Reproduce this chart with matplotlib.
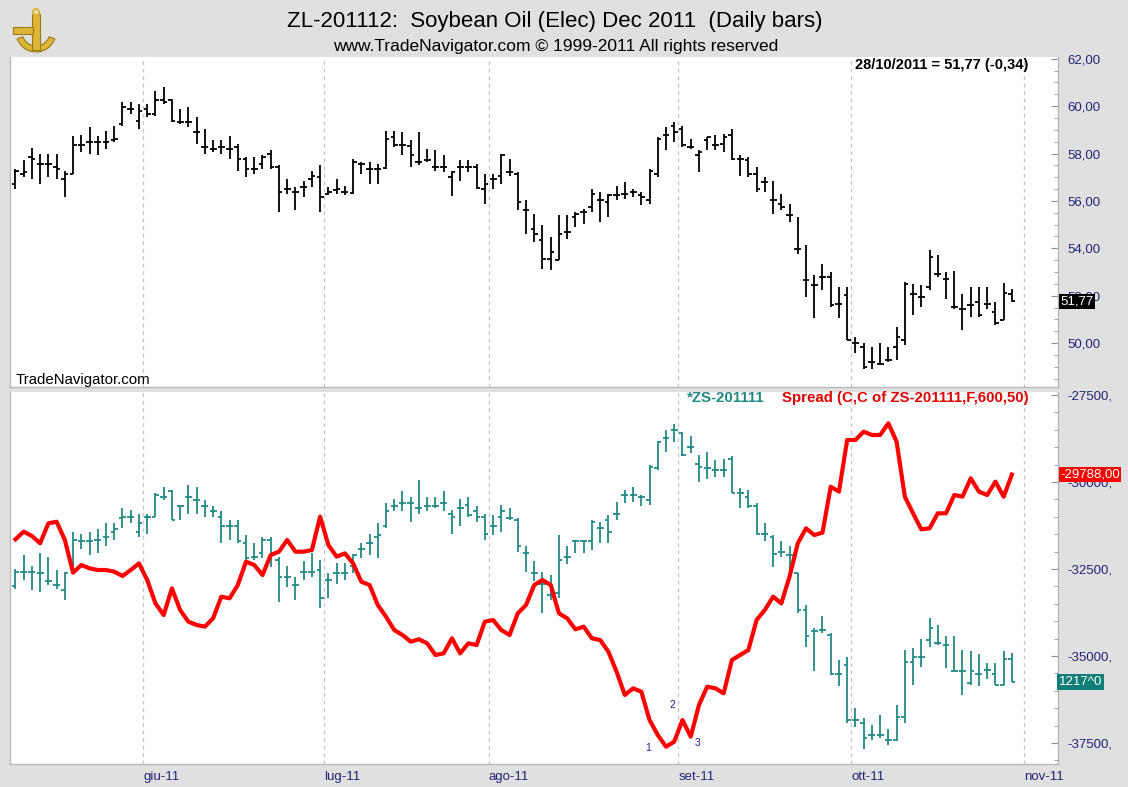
import numpy as np
import matplotlib
matplotlib.use("Agg")
import matplotlib.pyplot as plt
import matplotlib.transforms as mtransforms
from matplotlib import ticker
from matplotlib.patches import Rectangle, Wedge, Circle

plt.rcParams['font.family'] = ['Liberation Sans', 'DejaVu Sans']

# ZL-201112 soybean oil, daily bars 09/05/2011 .. 28/10/2011
zl_high = [57.35, 57.71, 58.24, 57.99, 57.99, 57.99, 57.28, 58.72, 58.76, 59.11,
           58.72, 58.97, 59.18, 60.16, 60.16, 60.09, 60.09, 60.65, 60.79, 60.30,
           59.88, 59.95, 59.53, 59.04, 58.55, 58.55, 58.72, 58.41, 57.85, 57.85,
           57.92, 58.13, 57.50, 56.93, 56.58, 56.86, 57.28, 57.50, 56.58, 56.93,
           56.65, 57.78, 57.64, 57.64, 57.57, 58.97, 58.97, 58.90, 58.55, 58.90,
           58.20, 58.15, 57.92, 57.28, 57.71, 57.71, 57.57, 57.14, 57.14, 57.99,
           57.78, 57.21, 56.02, 55.46, 54.97, 54.48, 55.39, 55.39, 55.53, 55.67,
           56.51, 56.37, 56.30, 56.65, 56.79, 56.51, 56.37, 57.35, 58.69, 59.11,
           59.32, 59.18, 58.62, 58.13, 58.69, 58.76, 58.83, 59.04, 57.92, 57.85,
           57.43, 57.00, 56.86, 56.30, 55.88, 55.32, 54.13, 52.86, 53.35, 53.00,
           52.37, 52.37, 50.27, 49.99, 49.85, 49.99, 49.85, 50.69, 52.58, 52.51,
           52.44, 53.94, 53.71, 53.00, 53.04, 52.09, 52.37, 52.37, 52.37, 51.74,
           52.54, 52.30]
zl_low = [56.51, 57.00, 56.93, 56.72, 57.00, 56.93, 56.16, 57.14, 58.06, 57.99,
          57.92, 58.20, 58.48, 59.18, 59.67, 59.04, 59.53, 59.60, 60.09, 59.32,
          59.25, 59.11, 58.41, 57.99, 58.06, 57.99, 57.78, 57.28, 57.00, 57.14,
          57.35, 57.35, 55.53, 56.30, 55.60, 56.16, 56.58, 55.53, 56.23, 56.30,
          56.23, 56.30, 57.14, 56.72, 56.72, 57.35, 58.27, 57.92, 57.45, 57.50,
          57.64, 57.28, 57.21, 56.19, 56.86, 57.21, 56.51, 55.88, 56.51, 56.72,
          57.07, 55.60, 54.62, 54.27, 53.14, 53.07, 53.49, 54.41, 54.90, 55.04,
          55.53, 55.11, 55.32, 56.02, 56.09, 56.16, 55.81, 55.88, 57.00, 58.13,
          58.48, 58.27, 58.20, 57.21, 58.13, 58.13, 58.06, 57.71, 57.07, 57.00,
          56.37, 56.37, 55.46, 55.60, 55.11, 53.78, 51.95, 51.04, 52.23, 51.53,
          51.04, 50.13, 49.57, 48.93, 48.93, 49.07, 49.21, 49.28, 49.92, 51.18,
          51.53, 52.23, 52.79, 51.88, 51.46, 50.55, 51.11, 51.11, 51.46, 50.76,
          50.97, 51.74]
zl_open = [56.72, 57.14, 57.85, 57.57, 57.57, 57.42, 56.93, 57.14, 58.34, 58.48,
           58.48, 58.48, 58.55, 59.25, 59.88, 59.39, 59.88, 59.67, 60.26, 60.26,
           59.32, 59.32, 58.90, 58.27, 58.20, 58.27, 58.20, 58.27, 57.78, 57.35,
           57.57, 57.99, 57.42, 56.51, 56.37, 56.58, 56.93, 57.00, 56.30, 56.44,
           56.37, 56.33, 57.57, 57.35, 57.35, 57.40, 58.69, 58.34, 58.30, 57.64,
           57.71, 57.45, 57.42, 57.00, 57.45, 57.45, 57.45, 56.51, 56.93, 57.07,
           57.21, 57.14, 55.60, 54.83, 54.34, 53.56, 53.52, 54.69, 55.32, 55.53,
           55.74, 56.02, 55.95, 56.23, 56.30, 56.37, 56.23, 56.02, 57.14, 58.76,
           59.18, 59.04, 58.27, 57.92, 58.55, 58.34, 58.41, 58.76, 57.78, 57.71,
           57.14, 56.79, 56.02, 55.88, 55.39, 53.99, 52.65, 52.44, 52.79, 52.79,
           51.67, 52.02, 49.99, 49.85, 49.21, 49.14, 49.28, 49.85, 50.13, 52.09,
           51.95, 52.37, 52.93, 52.72, 51.53, 51.46, 51.60, 51.74, 51.67, 51.32,
           50.97, 52.09]
zl_close = [57.28, 57.21, 57.78, 57.57, 57.57, 57.35, 57.14, 58.34, 58.34, 58.48,
            58.48, 58.48, 58.62, 59.95, 59.88, 59.81, 59.67, 60.26, 60.16, 59.39,
            59.32, 59.32, 58.90, 58.27, 58.20, 58.27, 58.20, 57.78, 57.35, 57.35,
            57.85, 57.42, 56.37, 56.51, 56.37, 56.58, 57.07, 56.16, 56.37, 56.51,
            56.37, 57.64, 57.57, 57.35, 57.35, 58.62, 58.34, 58.34, 57.92, 57.64,
            57.71, 57.45, 57.42, 57.21, 57.45, 57.45, 56.55, 56.72, 56.93, 57.92,
            57.21, 55.95, 55.60, 54.62, 53.56, 53.85, 54.62, 54.69, 55.46, 55.53,
            56.30, 56.02, 56.23, 56.23, 56.30, 56.37, 56.16, 57.28, 58.62, 58.76,
            58.90, 58.34, 58.27, 58.06, 58.69, 58.34, 58.69, 57.78, 57.78, 57.14,
            56.51, 56.79, 56.02, 55.74, 55.39, 53.99, 52.65, 52.44, 52.79, 51.60,
            51.67, 50.13, 49.99, 49.00, 49.21, 49.14, 49.28, 50.27, 52.51, 52.09,
            51.95, 53.64, 52.93, 52.72, 51.53, 51.46, 51.60, 51.18, 51.67, 50.83,
            52.11, 51.77]

# ZS-201111 soybeans (cents)
zs_high = [1324, 1337, 1327, 1339, 1335, 1323, 1321, 1359, 1357, 1359,
           1361, 1367, 1367, 1381, 1379, 1376, 1376, 1395, 1401, 1398,
           1384, 1403, 1401, 1389, 1383, 1378, 1370, 1370, 1356, 1348,
           1354, 1354, 1335, 1327, 1316, 1331, 1339, 1332, 1320, 1329,
           1329, 1338, 1348, 1357, 1367, 1386, 1390, 1397, 1392, 1408,
           1392, 1392, 1397, 1379, 1390, 1392, 1383, 1376, 1375, 1384,
           1381, 1372, 1345, 1331, 1321, 1318, 1356, 1345, 1351, 1351,
           1370, 1368, 1375, 1387, 1398, 1401, 1394, 1422, 1445, 1455,
           1461, 1453, 1449, 1431, 1434, 1427, 1428, 1430, 1400, 1398,
           1386, 1367, 1356, 1350, 1345, 1320, 1290, 1268, 1279, 1263,
           1238, 1241, 1192, 1183, 1176, 1186, 1173, 1195, 1247, 1249,
           1258, 1277, 1271, 1260, 1260, 1247, 1246, 1243, 1235, 1235,
           1246, 1244]
zs_low = [1305, 1313, 1304, 1302, 1309, 1305, 1294, 1323, 1343, 1337,
          1339, 1345, 1351, 1362, 1367, 1354, 1357, 1373, 1389, 1370,
          1370, 1376, 1376, 1373, 1373, 1348, 1351, 1348, 1332, 1332,
          1334, 1326, 1293, 1307, 1294, 1313, 1316, 1287, 1296, 1310,
          1313, 1320, 1334, 1337, 1334, 1362, 1378, 1378, 1368, 1376,
          1378, 1381, 1378, 1357, 1364, 1373, 1368, 1351, 1356, 1359,
          1370, 1340, 1321, 1312, 1282, 1294, 1296, 1328, 1339, 1339,
          1342, 1348, 1348, 1370, 1386, 1387, 1383, 1384, 1417, 1434,
          1444, 1430, 1433, 1406, 1409, 1411, 1411, 1395, 1381, 1381,
          1356, 1350, 1326, 1335, 1321, 1282, 1250, 1227, 1263, 1224,
          1213, 1178, 1175, 1154, 1162, 1164, 1158, 1161, 1178, 1214,
          1231, 1250, 1252, 1230, 1227, 1205, 1214, 1213, 1220, 1214,
          1214, 1217]
zs_open = [1308, 1321, 1321, 1320, 1312, 1309, 1304, 1326, 1350, 1350,
           1351, 1354, 1359, 1372, 1373, 1359, 1373, 1373, 1392, 1397,
           1383, 1392, 1389, 1383, 1378, 1373, 1364, 1364, 1348, 1335,
           1339, 1351, 1332, 1316, 1309, 1321, 1321, 1323, 1313, 1320,
           1320, 1327, 1343, 1348, 1354, 1364, 1383, 1386, 1386, 1381,
           1383, 1383, 1386, 1376, 1381, 1384, 1378, 1373, 1364, 1373,
           1372, 1370, 1339, 1320, 1310, 1299, 1301, 1335, 1350, 1350,
           1350, 1362, 1370, 1376, 1394, 1394, 1392, 1389, 1419, 1447,
           1455, 1452, 1439, 1423, 1419, 1417, 1417, 1428, 1395, 1392,
           1383, 1357, 1354, 1340, 1337, 1320, 1285, 1265, 1266, 1261,
           1225, 1233, 1181, 1178, 1167, 1167, 1162, 1162, 1184, 1236,
           1241, 1257, 1254, 1252, 1227, 1227, 1216, 1225, 1228, 1225,
           1214, 1239]
zs_close = [1321, 1321, 1321, 1320, 1312, 1309, 1320, 1351, 1350, 1350,
            1351, 1354, 1361, 1373, 1373, 1367, 1373, 1394, 1392, 1370,
            1383, 1392, 1389, 1383, 1378, 1364, 1364, 1350, 1334, 1335,
            1351, 1339, 1316, 1316, 1309, 1321, 1321, 1296, 1313, 1320,
            1320, 1337, 1343, 1348, 1356, 1378, 1383, 1386, 1386, 1381,
            1383, 1383, 1386, 1373, 1381, 1375, 1373, 1357, 1364, 1378,
            1372, 1345, 1339, 1320, 1310, 1299, 1332, 1335, 1350, 1350,
            1368, 1362, 1359, 1376, 1394, 1394, 1392, 1420, 1444, 1447,
            1455, 1431, 1439, 1420, 1419, 1417, 1417, 1395, 1395, 1383,
            1357, 1357, 1338, 1340, 1337, 1285, 1260, 1265, 1266, 1225,
            1225, 1181, 1181, 1164, 1167, 1167, 1162, 1184, 1236, 1241,
            1241, 1268, 1254, 1252, 1227, 1227, 1227, 1225, 1228, 1214,
            1239, 1217]

# Spread (C, C of ZS-201111, F, 600, 50)
spread = [-31648, -31428, -31552, -31763, -31188, -31141, -31667, -32606, -32386, -32482,
          -32530, -32530, -32578, -32702, -32530, -32338, -32817, -33488, -33823, -33057,
          -33679, -34015, -34110, -34158, -33919, -33296, -33344, -32961, -32290, -32386,
          -32673, -32099, -32003, -31667, -32003, -32003, -31955, -30997, -31811, -32146,
          -32051, -32338, -32865, -32961, -33536, -33871, -34254, -34398, -34589, -34522,
          -34637, -34973, -34925, -34494, -34925, -34637, -34685, -34015, -33967, -34254,
          -34398, -33775, -33536, -32961, -32817, -32961, -33775, -33919, -34235, -34158,
          -34494, -34541, -34877, -35452, -36122, -35931, -36026, -36841, -37272, -37607,
          -37463, -36841, -37320, -36410, -35883, -35931, -36074, -35116, -34973, -34829,
          -33967, -33679, -33296, -33488, -32721, -31763, -31332, -31524, -31457, -30135,
          -30278, -28793, -28793, -28554, -28650, -28650, -28314, -28841, -30422, -30901,
          -31361, -31332, -30901, -30901, -30374, -30422, -29895, -30278, -30374, -29991,
          -30422, -29788]

# first bar index of each month and its label
month_start = [16, 38, 58, 81, 102, 123]
month_labels = ['giu-11', 'lug-11', 'ago-11', 'set-11', 'ott-11', 'nov-11']

# wave count labels on the spread
wave_x = [76.8, 79.8, 82.8]
wave_y = [-37655, -36410, -37511]
wave_txt = ['1', '2', '3']

BG = '#e0e0e0'
NAVY = '#23237a'
TEAL = '#218a86'
RED = '#ff0000'

x = np.arange(len(zl_close))
grid_x = [m - 0.5 for m in month_start]


def ohlc(ax, o, h, l, c, color, lw=1.3, w=0.42):
    ax.vlines(x, l, h, color=color, lw=lw)
    ax.hlines(o, x - w, x, color=color, lw=lw)
    ax.hlines(c, x, x + w, color=color, lw=lw)


def style(ax):
    ax.set_facecolor('white')
    for s in ax.spines.values():
        s.set_color('#b8b8b8')
        s.set_linewidth(1.0)
    ax.spines['top'].set_visible(False)
    ax.set_xlim(-0.66, 126.6)
    ax.set_xticks(grid_x)
    ax.grid(axis='x', color='#c4c4c4', linestyle=(0, (3, 3)), lw=0.9)
    ax.tick_params(axis='x', length=0)


fig = plt.figure(figsize=(11.28, 7.87), dpi=100, facecolor=BG)
W, H = 1128, 787
L, R = 10, 1058

# ---- top panel: soybean oil
ax1 = fig.add_axes([L / W, (H - 387) / H, (R - L) / W, (387 - 57.5) / H])
style(ax1)
ohlc(ax1, zl_open, zl_high, zl_low, zl_close, 'black')
ax1.set_ylim(48.15, 62.05)
ax1.yaxis.tick_right()
ax1.yaxis.set_major_locator(ticker.MultipleLocator(2))
ax1.yaxis.set_minor_locator(ticker.MultipleLocator(0.5))
ax1.yaxis.set_major_formatter(ticker.FuncFormatter(lambda v, p: f"{v:.2f}".replace('.', ',')))
ax1.tick_params(axis='y', which='both', direction='in', color='#909090', labelcolor=NAVY,
                labelsize=9.5, pad=7)
ax1.tick_params(axis='y', which='major', length=5)
ax1.tick_params(axis='y', which='minor', length=3)
ax1.tick_params(axis='x', labelbottom=False)

ax1.text(0.005, 0.022, 'TradeNavigator.com', transform=ax1.transAxes, fontsize=10.8,
         ha='left', va='center', color='black')
ax1.text(0.972, 0.977, '28/10/2011 = 51,77 (-0,34)', transform=ax1.transAxes, fontsize=10.5,
         fontweight='bold', ha='right', va='center', color='black')
tr1 = mtransforms.blended_transform_factory(ax1.transAxes, ax1.transData)
ax1.text(1.002, zl_close[-1], f"{zl_close[-1]:.2f}".replace('.', ','), transform=tr1,
         ha='left', va='center', color='white', fontsize=9.5, clip_on=False, zorder=6,
         bbox=dict(boxstyle='square,pad=0.12', fc='black', ec='none'))

# ---- bottom panel: soybeans bars + spread line
ax2 = fig.add_axes([L / W, 23 / H, (R - L) / W, (764 - 392) / H])
style(ax2)
ohlc(ax2, zs_open, zs_high, zs_low, zs_close, TEAL)
ax2.set_ylim(1139.6, 1490.8)

ax3 = ax2.twinx()
ax2.tick_params(axis='y', which='both', left=False, labelleft=False, right=False,
                labelright=False)
ax2.set_xticklabels(month_labels)
ax2.tick_params(axis='x', labelcolor=NAVY, labelsize=9.5, pad=5)
for lab in ax2.get_xticklabels():
    lab.set_ha('left')

ax3.plot(x, spread, color=RED, lw=3.0, solid_joinstyle='round')
ax3.set_ylim(-38105, -27414)
ax3.set_xlim(-0.66, 126.6)
for s in ax3.spines.values():
    s.set_visible(False)
ax3.yaxis.set_major_locator(ticker.MultipleLocator(2500))
ax3.yaxis.set_minor_locator(ticker.MultipleLocator(500))
ax3.yaxis.set_major_formatter(ticker.FuncFormatter(lambda v, p: f"{int(v)},"))
ax3.tick_params(axis='y', which='both', direction='in', color='#909090', labelcolor=NAVY,
                labelsize=9.5, pad=7)
ax3.tick_params(axis='y', which='major', length=5)
ax3.tick_params(axis='y', which='minor', length=3)

for tx, ty, t in zip(wave_x, wave_y, wave_txt):
    ax3.text(tx, ty, t, color='#1c1c9a', fontsize=7.5, ha='center', va='center')

ax3.text(0.7204, 0.985, '*ZS-201111', transform=ax3.transAxes, color=TEAL, fontsize=10.8,
         fontweight='bold', ha='right', va='center')
ax3.text(0.972, 0.985, 'Spread (C,C of ZS-201111,F,600,50)', transform=ax3.transAxes,
         color='#e00000', fontsize=10.8, fontweight='bold', ha='right', va='center')

tr3 = mtransforms.blended_transform_factory(ax3.transAxes, ax3.transData)
ax3.text(1.002, spread[-1], f"{spread[-1]},00", transform=tr3, ha='left', va='center',
         color='white', fontsize=9.5, clip_on=False, zorder=6,
         bbox=dict(boxstyle='square,pad=0.12', fc=RED, ec='none'))
tr2 = mtransforms.blended_transform_factory(ax2.transAxes, ax2.transData)
ax2.text(1.001, zs_close[-1], f"{zs_close[-1]}^0", transform=tr2, ha='left', va='center',
         color='white', fontsize=9.5, clip_on=False, zorder=6,
         bbox=dict(boxstyle='square,pad=0.12', fc='#0f7d78', ec='none'))

# ---- header
fig.text(0.492, (H - 21) / H, 'ZL-201112:  Soybean Oil (Elec) Dec 2011  (Daily bars)',
         ha='center', va='center', fontsize=16,
         family=['Liberation Sans Narrow', 'Liberation Sans', 'DejaVu Sans'])
fig.text(0.493, (H - 47) / H, 'www.TradeNavigator.com \u00a9 1999-2011 All rights reserved',
         ha='center', va='center', fontsize=12.5,
         family=['Liberation Sans Narrow', 'Liberation Sans', 'DejaVu Sans'])

# small golden sextant logo
lg = fig.add_axes([10 / W, (H - 56) / H, 50 / W, 48 / H])
lg.set_xlim(0, 50)
lg.set_ylim(0, 48)
lg.axis('off')
gold, dark = '#dcb638', '#9a7a12'
lg.add_patch(Wedge((26, 24), 20, 200, 340, width=6, fc=gold, ec=dark, lw=0.8))
lg.add_patch(Rectangle((22, 6), 8, 36, fc=gold, ec=dark, lw=0.8))
lg.add_patch(Rectangle((3, 22), 20, 7, fc=gold, ec=dark, lw=0.8))
lg.add_patch(Circle((26, 44), 3, fc='none', ec=gold, lw=1.5))

fig.savefig('out.png', dpi=100, facecolor=BG)
